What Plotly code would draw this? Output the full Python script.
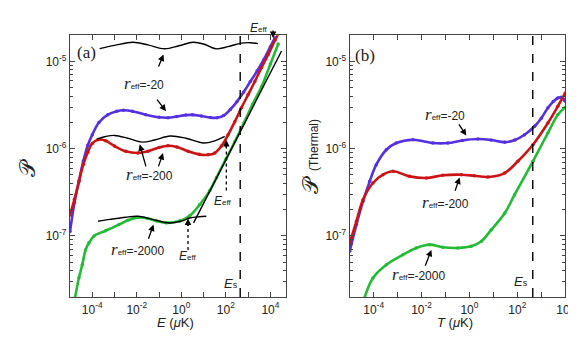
import plotly.graph_objects as go
from plotly.subplots import make_subplots

# ---- panel (a): P vs collision energy E (uK); log10 values ----
logE_a_m20 = [-5.0, -4.8, -4.6, -4.4, -4.2, -4.0, -3.7, -3.3, -2.9, -2.6, -2.2, -1.6, -1.0, -0.6,
              -0.2, 0.2, 0.5, 0.9, 1.3, 1.6, 1.9, 2.2, 2.5, 2.8, 3.1, 3.4, 3.7, 4.0, 4.2]
logP_a_m20 = [-6.95, -6.62, -6.37, -6.14, -5.96, -5.84, -5.70, -5.61, -5.57, -5.56, -5.57, -5.61, -5.64, -5.645,
              -5.63, -5.615, -5.612, -5.625, -5.643, -5.645, -5.62, -5.55, -5.46, -5.35, -5.23, -5.11, -4.98, -4.83, -4.73]

logE_a_m200 = [-5.0, -4.8, -4.6, -4.4, -4.2, -4.0, -3.74, -3.4, -3.0, -2.5, -1.95, -1.5, -1.0, -0.6, -0.2,
               0.3, 0.8, 1.2, 1.5, 1.8, 2.1, 2.4, 2.7, 3.0, 3.3, 3.6, 3.9, 4.2, 4.4]
logP_a_m200 = [-6.76, -6.58, -6.38, -6.18, -6.04, -5.94, -5.897, -5.91, -5.97, -6.03, -6.05, -6.03, -5.985, -5.966, -5.98,
               -6.03, -6.065, -6.07, -6.05, -5.97, -5.84, -5.69, -5.53, -5.38, -5.23, -5.07, -4.92, -4.76, -4.66]

logE_a_m2000 = [-4.78, -4.6, -4.45, -4.3, -4.15, -3.92, -3.4, -2.8, -2.4, -1.96, -1.5, -1.1, -0.68, -0.08,
                0.375, 0.83, 1.28, 1.58, 2.0, 2.4, 2.8, 3.2, 3.6, 4.0, 4.35]
logP_a_m2000 = [-7.72, -7.48, -7.33, -7.16, -7.08, -7.00, -6.94, -6.87, -6.82, -6.79, -6.80, -6.83, -6.85, -6.83,
                -6.77, -6.64, -6.48, -6.33, -6.12, -5.92, -5.71, -5.49, -5.29, -5.03, -4.80]

# black reference curves in (a)
logE_fit_m20 = [-3.67, -3.0, -2.17, -1.5, -0.75, -0.1, 0.52, 1.0, 1.55, 2.1, 2.69, 3.1, 3.44]
logP_fit_m20 = [-4.852, -4.815, -4.78, -4.81, -4.855, -4.82, -4.78, -4.80, -4.855, -4.83, -4.79, -4.785, -4.795]
logE_fit_m200 = [-3.8, -3.4, -3.0, -2.4, -1.75, -1.2, -0.5, 0.2, 1.0, 1.5, 1.95]
logP_fit_m200 = [-5.89, -5.86, -5.848, -5.88, -5.925, -5.90, -5.855, -5.88, -5.935, -5.91, -5.86]
logE_fit_m2000 = [-3.74, -3.2, -2.5, -1.95, -1.3, -0.52, 0.0, 0.375, 0.8, 1.12]
logP_fit_m2000 = [-6.832, -6.81, -6.785, -6.775, -6.81, -6.852, -6.83, -6.795, -6.78, -6.775]
logE_thr = [0.55, 4.5]
logP_thr = [-6.85, -4.88]

# ---- panel (b): thermally averaged P vs T (uK) ----
logT_b_m20 = [-5.0, -4.72, -4.445, -4.165, -3.89, -3.47, -3.055, -2.36, -1.52, -0.9, -0.3, 0.355, 0.9, 1.47,
              1.9, 2.3, 2.72, 3.0, 3.27, 3.5, 3.69, 3.83, 3.92, 4.0]
logP_b_m20 = [-7.176, -6.871, -6.603, -6.374, -6.183, -6.012, -5.935, -5.897, -5.935, -5.935, -5.905, -5.889, -5.90, -5.925,
              -5.90, -5.84, -5.743, -5.65, -5.533, -5.46, -5.419, -5.411, -5.43, -5.457]
logT_b_m200 = [-5.0, -4.72, -4.445, -4.03, -3.61, -3.19, -2.5, -1.8, -1.11, -0.34, 0.2, 0.77, 1.47, 2.02,
               2.65, 3.275, 3.69, 4.0]
logP_b_m200 = [-7.081, -6.832, -6.585, -6.393, -6.298, -6.259, -6.317, -6.336, -6.305, -6.298, -6.31, -6.324, -6.279, -6.144,
               -5.954, -5.705, -5.514, -5.361]
logT_b_m2000 = [-4.42, -4.03, -3.47, -2.775, -2.22, -1.66, -1.11, -0.48, 0.075, 0.5, 0.91, 1.47, 1.885, 2.65,
                3.275, 3.69, 4.0]
logP_b_m2000 = [-7.74, -7.482, -7.33, -7.215, -7.138, -7.10, -7.13, -7.138, -7.119, -7.06, -6.93, -6.74, -6.527, -6.144,
                -5.82, -5.61, -5.525]

E_S = 440.0                     # E_s marker (uK)
E_EFF = [2.02, 0.30, 4.12]      # log10 E_eff for r_eff=-200, -2000, -20
P_RANGE = [-7.7, -4.7]
Y_TICKS = [-7, -6, -5]

BLUE, RED, GREEN = '#5530e0', '#cc1414', '#22bb33'
FONT = 'Liberation Sans'


def pw(a):
    return [10 ** v for v in a]


fig = make_subplots(rows=1, cols=2)

def add_series(lx, ly, color, col):
    fig.add_trace(go.Scatter(x=pw(lx), y=pw(ly), mode='lines+markers', line=dict(color=color, width=2.6, shape='spline'),
                             marker=dict(color=color, size=3.5), showlegend=False), row=1, col=col)

def add_line(lx, ly, col, dash='solid', width=1.4, shape='spline'):
    fig.add_trace(go.Scatter(x=pw(lx), y=pw(ly), mode='lines', line=dict(color='black', width=width, dash=dash, shape=shape),
                             showlegend=False), row=1, col=col)

add_series(logE_a_m20, logP_a_m20, BLUE, 1)
add_series(logE_a_m200, logP_a_m200, RED, 1)
add_series(logE_a_m2000, logP_a_m2000, GREEN, 1)
add_line(logE_fit_m20, logP_fit_m20, 1)
add_line(logE_fit_m200, logP_fit_m200, 1)
add_line(logE_fit_m2000, logP_fit_m2000, 1)
add_line(logE_thr, logP_thr, 1, shape='linear')

add_series(logT_b_m20, logP_b_m20, BLUE, 2)
add_series(logT_b_m200, logP_b_m200, RED, 2)
add_series(logT_b_m2000, logP_b_m2000, GREEN, 2)

# E_s dashed lines
for c in (1, 2):
    fig.add_trace(go.Scatter(x=[E_S, E_S], y=pw(P_RANGE), mode='lines',
                             line=dict(color='black', width=1.4, dash='dash'), showlegend=False), row=1, col=c)

# dotted E_eff markers in (a)
add_line([E_EFF[0], E_EFF[0]], [-6.48, -5.95], 1, dash='dot', width=1.3, shape='linear')
add_line([E_EFF[1], E_EFF[1]], [-7.16, -6.86], 1, dash='dot', width=1.3, shape='linear')

ann = []

def arrow(x, y, ax, ay, xr, yr):
    ann.append(dict(x=x, y=y, ax=ax, ay=ay, xref=xr, yref=yr, axref=xr, ayref=yr, text='', showarrow=True,
                    arrowhead=2, arrowsize=1, arrowwidth=1.3, arrowcolor='black'))

def label(x, y, text, xr, yr, size=12):
    ann.append(dict(x=x, y=y, xref=xr, yref=yr, text=text, showarrow=False, xanchor='center', yanchor='middle',
                    font=dict(family=FONT, size=size, color='#222')))

def reff(v):
    return ('<span style="font-family:Liberation Serif;font-size:17px"><i>r</i></span>'
            '<span style="font-size:8px">eff</span>=-' + v)

EEFF = '<i>E</i><span style="font-size:8px">eff</span>'
ES = '<i>E</i><span style="font-size:9px">s</span>'
W, H = 576, 341

# panel (a) annotations
arrow(-0.80, -4.92, -1.05, -5.075, 'x', 'y')
arrow(-0.69, -5.57, -1.14, -5.42, 'x', 'y')
arrow(-1.87, -5.95, -1.57, -6.22, 'x', 'y')
arrow(-0.82, -6.05, -1.05, -6.22, 'x', 'y')
arrow(-1.25, -6.87, -1.50, -7.05, 'x', 'y')
label(-1.68, -5.25, reff('20'), 'x', 'y')
label(-1.45, -6.30, reff('200'), 'x', 'y')
label(-1.99, -7.16, reff('2000'), 'x', 'y')
for xe, ye in ((E_EFF[0], -5.90), (E_EFF[1], -6.80)):
    ann.append(dict(x=xe, y=ye, xref='x', yref='y', ax=0, ay=9, text='', showarrow=True,
                    arrowhead=2, arrowsize=1, arrowwidth=1.3, arrowcolor='black'))
ann.append(dict(x=E_EFF[2], y=-4.73, xref='x', yref='y', ax=0, ay=-9, text='', showarrow=True,
                arrowhead=2, arrowsize=1, arrowwidth=1.3, arrowcolor='black'))
label(1.87, -6.60, EEFF, 'x', 'y')
label(0.30, -7.23, EEFF, 'x', 'y')
label(251 / W, 1 - 20 / H, EEFF, 'paper', 'paper')
label(2.23, -7.54, ES, 'x', 'y', 13)
label(-4.24, -4.90, '(a)', 'x', 'y', 17)
ann[-1]['font']['family'] = 'Liberation Serif'

# panel (b) annotations
arrow(-0.13, -5.85, -0.48, -5.705, 'x2', 'y2')
arrow(-0.41, -6.33, -0.62, -6.50, 'x2', 'y2')
arrow(-1.59, -7.16, -1.87, -7.36, 'x2', 'y2')
label(-1.02, -5.61, reff('20'), 'x2', 'y2')
label(-1.02, -6.62, reff('200'), 'x2', 'y2')
label(-2.11, -7.44, reff('2000'), 'x2', 'y2')
label(2.15, -7.52, ES, 'x2', 'y2', 13)
label(-4.36, -4.93, '(b)', 'x2', 'y2', 17)
ann[-1]['font']['family'] = 'Liberation Serif'

# axis titles
label(167 / W, 1 - 314 / H, '<i>E</i> (<i>μ</i>K)', 'paper', 'paper', 13)
label(447 / W, 1 - 314 / H, '<i>T</i> (<i>μ</i>K)', 'paper', 'paper', 13)
ann.append(dict(x=19 / W, y=1 - 160 / H, xref='paper', yref='paper', text='𝒫', showarrow=False, textangle=-90,
                xanchor='center', yanchor='middle', font=dict(family='DejaVu Serif', size=22, color='#222')))
ann.append(dict(x=302 / W, y=1 - 149 / H, xref='paper', yref='paper', textangle=-90, showarrow=False,
                xanchor='center', yanchor='middle',
                text='𝒫 <span style="font-size:12px;font-family:Liberation Sans">(Thermal)</span>',
                font=dict(family='DejaVu Serif', size=22, color='#222')))

ytv = [10 ** d for d in Y_TICKS]
ytt = ['10<sup>%d</sup>' % d for d in Y_TICKS]
yminor = [k * 10 ** d for d in (-8, -7, -6, -5) for k in range(2, 10)]
axis_common = dict(showline=True, linecolor='#444', linewidth=1.2, mirror='ticks', ticks='inside', ticklen=5,
                   tickcolor='#444', showgrid=False, zeroline=False, automargin=False,
                   tickfont=dict(family=FONT, size=12, color='#222'))

fig.update_yaxes(type='log', range=P_RANGE, tickmode='array', tickvals=ytv, ticktext=ytt,
                 minor=dict(ticks='inside', ticklen=3, tickcolor='#444', tickmode='array', tickvals=yminor),
                 domain=[1 - 289 / H, 1 - 27.3 / H], **axis_common)

def xaxis_ticks(lo, hi):
    vals = list(range(lo, hi + 1))
    return [10 ** v for v in vals], ['10<sup>%d</sup>' % v if v % 2 == 0 else '' for v in vals]

tv, tt = xaxis_ticks(-4, 4)
fig.update_xaxes(type='log', tickmode='array', tickvals=tv, ticktext=tt, ticklabelstandoff=1, **axis_common)
fig.update_xaxes(range=[-5, 4.7], domain=[62 / W, 278 / W], row=1, col=1)
fig.update_xaxes(range=[-5, 4.002], domain=[341.7 / W, 557.3 / W], row=1, col=2)

fig.update_layout(width=W, height=H, margin=dict(l=0, r=0, t=0, b=0), plot_bgcolor='white', paper_bgcolor='white',
                  annotations=ann, showlegend=False, font=dict(family=FONT))

fig.write_html("out.html")
